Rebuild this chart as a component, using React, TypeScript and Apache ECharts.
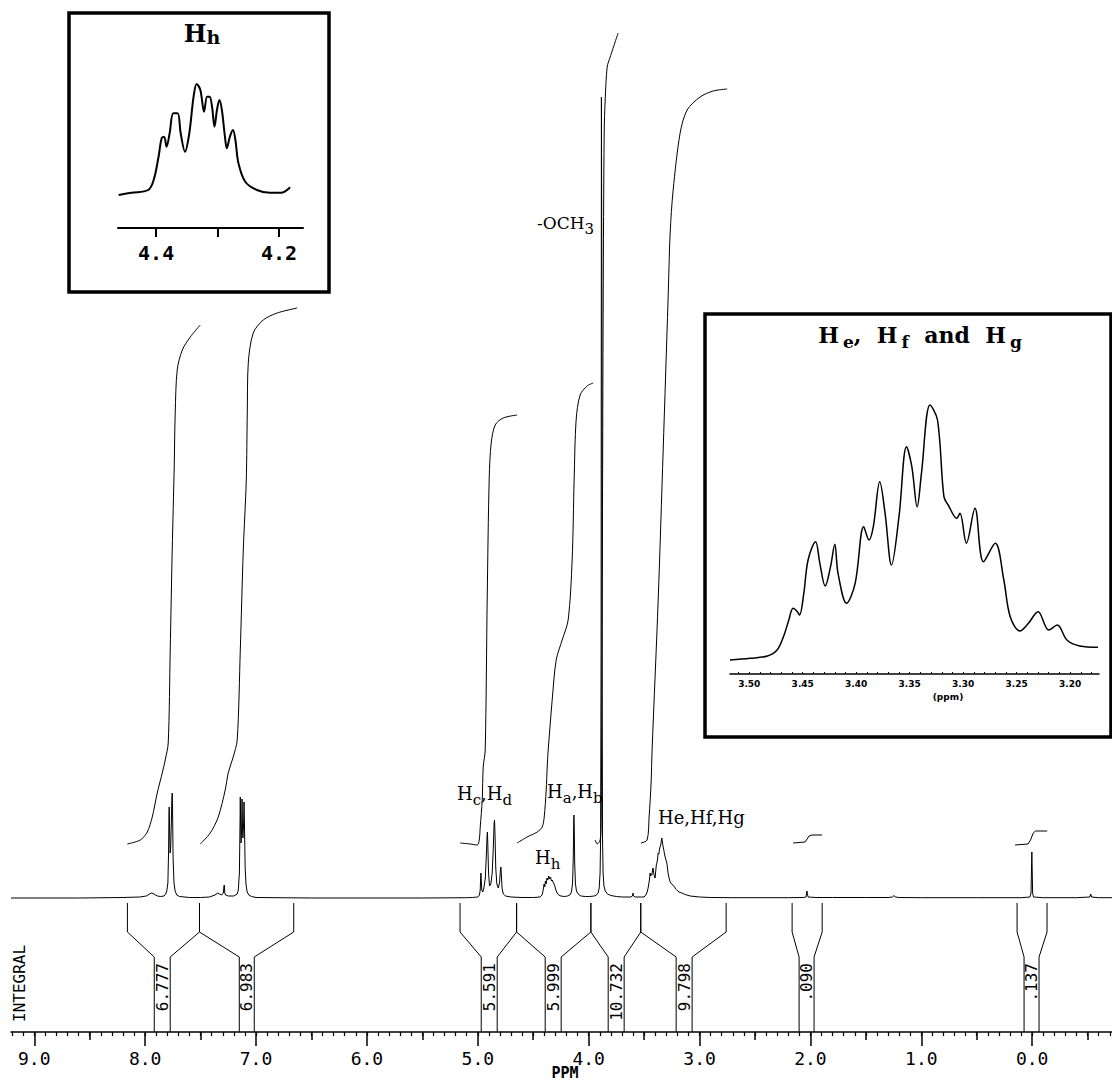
import React, { useEffect, useRef } from "react";
import * as echarts from "echarts";

// ---------- axis ticks (ppm) ----------
const majorTicks = [9, 8, 7, 6, 5, 4, 3, 2, 1, 0];
const midTicks = [8.5, 7.5, 6.5, 5.5, 4.5, 3.5, 2.5, 1.5, 0.5, -0.5];
const minorTicks: number[] = [];
for (let i = -7; i <= 92; i++) minorTicks.push(i / 10);

const hhTicks = [4.4, 4.3, 4.2];
const hhLabels = [4.4, 4.2];
const efgLabels = [3.5, 3.45, 3.4, 3.35, 3.3, 3.25, 3.2];
const efgMinor: number[] = [];
for (let i = 318; i <= 351; i++) efgMinor.push(i / 100);

// ---------- main spectrum [ppm, intensity] ----------
const spectrum = [
  [9.21, 0], [8.6, 0], [8.2, 0.5], [8.05, 1], [7.99, 2], [7.96, 4], [7.94, 5], [7.92, 4], [7.89, 2], [7.86, 1.5],
  [7.83, 2], [7.815, 4], [7.805, 7], [7.795, 15], [7.789, 45], [7.785, 85], [7.783, 91], [7.78, 70], [7.775, 45],
  [7.77, 50], [7.764, 75], [7.759, 100], [7.756, 105], [7.753, 90], [7.748, 40], [7.74, 15], [7.73, 7], [7.715, 3],
  [7.69, 1.5], [7.6, 0.5], [7.5, 0.5], [7.42, 1], [7.37, 3], [7.345, 5], [7.33, 4], [7.31, 3], [7.295, 5],
  [7.289, 12], [7.286, 13], [7.282, 5], [7.275, 3], [7.25, 2], [7.2, 2], [7.17, 4], [7.16, 8], [7.15, 25],
  [7.145, 70], [7.142, 101], [7.139, 75], [7.135, 55], [7.13, 70], [7.126, 99], [7.122, 70], [7.118, 60],
  [7.112, 75], [7.108, 96], [7.104, 70], [7.098, 30], [7.09, 13], [7.08, 6], [7.065, 3], [7.04, 1.5], [7.0, 0.5],
  [6.5, 0], [6.0, 0], [5.5, 0], [5.1, 0.3],
  [5.05, 0.5], [5.0, 1], [4.985, 3], [4.978, 8], [4.974, 20], [4.972, 25], [4.969, 18], [4.964, 8], [4.955, 6],
  [4.945, 10], [4.932, 20], [4.922, 45], [4.916, 63], [4.913, 66], [4.91, 55], [4.903, 25], [4.894, 12],
  [4.882, 14], [4.87, 25], [4.86, 50], [4.853, 75], [4.849, 78], [4.845, 65], [4.838, 30], [4.828, 14],
  [4.815, 10], [4.803, 16], [4.796, 28], [4.792, 31], [4.788, 25], [4.781, 10], [4.77, 4], [4.75, 2], [4.7, 1],
  [4.6, 0.5], [4.5, 0.5], [4.44, 1], [4.42, 3], [4.41, 8], [4.402, 14], [4.396, 11], [4.39, 17], [4.384, 14],
  [4.376, 20], [4.368, 18], [4.36, 22], [4.352, 19], [4.344, 21], [4.336, 17], [4.328, 18], [4.318, 15],
  [4.308, 13], [4.298, 9], [4.285, 5], [4.27, 3], [4.25, 2], [4.22, 1.5], [4.19, 2], [4.17, 3], [4.155, 6],
  [4.145, 15], [4.139, 40], [4.135, 75], [4.133, 83], [4.13, 70], [4.126, 35], [4.119, 14], [4.11, 7],
  [4.095, 4], [4.07, 2], [4.03, 1.5], [3.99, 1.5], [3.95, 2], [3.93, 3], [3.915, 5], [3.905, 10], [3.897, 25],
  [3.892, 60], [3.888, 250], [3.886, 600], [3.885, 801], [3.882, 801], [3.881, 600], [3.879, 250], [3.875, 60],
  [3.87, 25], [3.862, 12], [3.85, 7], [3.83, 4], [3.8, 2.5], [3.75, 1.5], [3.7, 1], [3.62, 1], [3.605, 2],
  [3.6, 5], [3.596, 2], [3.58, 1], [3.53, 1], [3.5, 1], [3.485, 3], [3.472, 6], [3.464, 10], [3.458, 14],
  [3.452, 18], [3.446, 25], [3.44, 22], [3.435, 24], [3.43, 23], [3.424, 28], [3.419, 30], [3.412, 24],
  [3.405, 21], [3.401, 20], [3.395, 27], [3.39, 33], [3.385, 35], [3.38, 38], [3.373, 45], [3.367, 44],
  [3.361, 49], [3.356, 51], [3.35, 53], [3.345, 57], [3.34, 60], [3.335, 56], [3.328, 51], [3.322, 48],
  [3.316, 44], [3.31, 41], [3.303, 38], [3.295, 35], [3.289, 30], [3.284, 25], [3.275, 20], [3.265, 16],
  [3.259, 15], [3.25, 14], [3.243, 13], [3.238, 13], [3.225, 11], [3.215, 9], [3.205, 8], [3.185, 6],
  [3.16, 5], [3.13, 3.5], [3.085, 2], [3.0, 1], [2.9, 0.5], [2.7, 0.3], [2.2, 0.3], [2.06, 0.5], [2.04, 1],
  [2.034, 5], [2.031, 7], [2.028, 4], [2.02, 1], [1.95, 0.5], [1.8, 0.5], [1.5, 0.5], [1.3, 0.5], [1.26, 1],
  [1.245, 2.5], [1.235, 1], [1.2, 0.5], [1.0, 0.3], [0.5, 0.3], [0.1, 0.3], [0.02, 1], [0.01, 5], [0.006, 30],
  [0.003, 46], [0.0, 30], [-0.004, 5], [-0.012, 1], [-0.1, 0.3], [-0.4, 0.3], [-0.52, 1], [-0.528, 4],
  [-0.536, 1], [-0.6, 0.3], [-0.72, 0.3],
];

// ---------- integral traces [ppm, height] ----------
const integralArom1 = [
  [8.161, 54], [8.044, 58], [7.981, 66], [7.936, 81], [7.891, 105], [7.846, 125], [7.819, 138], [7.792, 155],
  [7.774, 248], [7.756, 348], [7.738, 431], [7.729, 485], [7.711, 528], [7.665, 548], [7.593, 561], [7.503, 573],
];
const integralArom2 = [
  [7.503, 54], [7.413, 65], [7.341, 81], [7.278, 108], [7.251, 125], [7.206, 141], [7.17, 158], [7.142, 248],
  [7.115, 348], [7.088, 418], [7.079, 485], [7.07, 535], [7.025, 565], [6.935, 578], [6.809, 585], [6.629, 590],
];
const integralHcHd = [
  [5.159, 55], [5.069, 54], [5.005, 53], [4.987, 58], [4.978, 71], [4.96, 98], [4.951, 131], [4.933, 148],
  [4.915, 300], [4.897, 420], [4.879, 455], [4.843, 473], [4.771, 480], [4.645, 483],
];
const integralHaHb = [
  [4.645, 55], [4.555, 61], [4.464, 66], [4.419, 71], [4.401, 81], [4.383, 108], [4.374, 131], [4.365, 148],
  [4.329, 198], [4.293, 238], [4.239, 258], [4.185, 278], [4.149, 338], [4.131, 418], [4.113, 478],
  [4.077, 503], [4.014, 512], [3.959, 515],
];
const integralOCH3 = [
  [3.941, 58], [3.923, 54], [3.896, 58], [3.887, 81], [3.878, 298], [3.869, 598], [3.86, 765], [3.851, 798],
  [3.833, 831], [3.806, 841], [3.734, 865],
];
const integralHefg = [
  [3.527, 55], [3.473, 58], [3.455, 81], [3.437, 115], [3.428, 148], [3.373, 298], [3.328, 448], [3.284, 598],
  [3.265, 665], [3.238, 708], [3.175, 765], [3.112, 788], [2.995, 801], [2.877, 807], [2.751, 809],
];
const integral2ppm = [[2.156, 55], [2.048, 56], [2.03, 59], [2.012, 62], [1.985, 63], [1.895, 63]];
const integralTMS = [[0.154, 53], [0.037, 54], [0.015, 58], [-0.01, 65], [-0.03, 67], [-0.135, 67]];

// ---------- integral brackets ----------
const bracketOuter = [
  [8.16, 7.51], [7.51, 6.66], [5.16, 4.65], [4.65, 3.98], [3.98, 3.53], [3.53, 2.76], [2.165, 1.894], [0.136, -0.134],
];
const bracketInner = [
  [7.918, 7.774], [7.151, 7.016], [4.969, 4.825], [4.392, 4.248], [3.824, 3.68], [3.211, 3.067], [2.102, 1.967], [0.073, -0.062],
];
const integralValues = ["6.777", "6.983", "5.591", "5.999", "10.732", "9.798", ".090", ".137"];

// ---------- insets ----------
const hhInset = [
  [4.461, 33], [4.44, 35.3], [4.413, 38], [4.404, 48], [4.396, 71.3], [4.391, 89.7], [4.387, 91.3], [4.383, 81.3],
  [4.378, 94.7], [4.372, 114.7], [4.365, 114.7], [4.36, 94.7], [4.353, 76.3], [4.346, 94.7], [4.339, 131.3],
  [4.334, 144], [4.328, 138], [4.322, 116.3], [4.317, 131.3], [4.313, 131.3], [4.309, 121.3], [4.305, 101.3],
  [4.301, 118], [4.297, 128], [4.293, 118], [4.288, 91.3], [4.285, 79.7], [4.28, 91.3], [4.275, 98], [4.271, 88],
  [4.266, 64.7], [4.255, 46.3], [4.236, 38], [4.215, 35.3], [4.196, 35.3], [4.182, 40.7],
];
const hefgInset = [
  [3.518, 14], [3.499, 15.7], [3.483, 18], [3.474, 24], [3.468, 37.3], [3.463, 54], [3.459, 65.7], [3.455, 62.3],
  [3.453, 59], [3.449, 80.7], [3.445, 114], [3.438, 132.3], [3.434, 110.7], [3.429, 88], [3.424, 107.3],
  [3.42, 129.7], [3.417, 100.7], [3.409, 70.7], [3.401, 90.7], [3.393, 147.3], [3.388, 134], [3.384, 147.3],
  [3.378, 192.3], [3.373, 160.7], [3.367, 109], [3.36, 157.3], [3.353, 227.3], [3.348, 207.3], [3.343, 167.3],
  [3.339, 200.7], [3.331, 269], [3.324, 254], [3.318, 177.3], [3.314, 169], [3.306, 155.7], [3.303, 160.7],
  [3.297, 130.7], [3.289, 165.7], [3.281, 112.3], [3.27, 130.7], [3.262, 94], [3.256, 57.3], [3.247, 43],
  [3.239, 50.7], [3.23, 62.3], [3.22, 44], [3.212, 49], [3.203, 34], [3.191, 28], [3.174, 26.7],
];

const MONO = "DejaVu Sans Mono";
const SERIF = "DejaVu Serif";

function lineSeries(data: number[][], xi: number, yi: number, width = 1, smooth: any = false) {
  return {
    type: "line",
    xAxisIndex: xi,
    yAxisIndex: yi,
    data,
    symbol: "none",
    smooth,
    lineStyle: { color: "#000", width },
    silent: true,
  };
}

function subLabel(x: number, y: number, text: string, size: number, subSize: number, drop: number) {
  return {
    type: "text",
    x,
    y,
    style: {
      text,
      align: "left",
      verticalAlign: "bottom",
      fill: "#000",
      rich: {
        n: { fontFamily: SERIF, fontSize: size, verticalAlign: "bottom", padding: [0, 0, drop, 0], fill: "#000" },
        s: { fontFamily: SERIF, fontSize: subSize, verticalAlign: "bottom", fill: "#000" },
      },
    },
  };
}

export default function App() {
  const ref = useRef<HTMLDivElement>(null);
  useEffect(() => {
    const chart = echarts.init(ref.current!, null, { renderer: "svg" });
    const hidden = { show: false };
    const mainX = (extra: any) => ({
      type: "value",
      gridIndex: 0,
      position: "bottom",
      min: -0.72,
      max: 9.21,
      inverse: true,
      splitLine: hidden,
      ...extra,
    });
    const option: any = {
      animation: false,
      backgroundColor: "#fff",
      grid: [
        { left: 11, right: 0, top: 0, bottom: 53, containLabel: false, outerBoundsMode: "none" },
        { left: 118, right: 809, top: 60, bottom: 857, containLabel: false, outerBoundsMode: "none" },
        { left: 730, right: 13, top: 400, bottom: 411, containLabel: false, outerBoundsMode: "none" },
      ],
      xAxis: [
        mainX({
          axisLine: { show: true, onZero: false, lineStyle: { color: "#000", width: 1.5 } },
          axisTick: { show: true, customValues: majorTicks, length: 14, lineStyle: { color: "#000", width: 1.5 } },
          axisLabel: {
            show: true,
            customValues: majorTicks,
            formatter: (v: number) => v.toFixed(1),
            color: "#000",
            fontFamily: MONO,
            fontSize: 18,
            margin: 17,
          },
        }),
        mainX({
          axisLine: { show: false, onZero: false },
          axisTick: { show: true, customValues: midTicks, length: 8, lineStyle: { color: "#000", width: 1.5 } },
          axisLabel: hidden,
        }),
        mainX({
          axisLine: { show: false, onZero: false },
          axisTick: { show: true, customValues: minorTicks, length: 4, lineStyle: { color: "#000", width: 1.2 } },
          axisLabel: hidden,
        }),
        {
          type: "value",
          gridIndex: 1,
          position: "bottom",
          min: 4.161,
          max: 4.462,
          inverse: true,
          splitLine: hidden,
          axisLine: { show: true, onZero: false, lineStyle: { color: "#000", width: 2 } },
          axisTick: { show: true, customValues: hhTicks, length: 9, lineStyle: { color: "#000", width: 2 } },
          axisLabel: {
            show: true,
            customValues: hhLabels,
            formatter: (v: number) => v.toFixed(1),
            color: "#000",
            fontFamily: MONO,
            fontWeight: "bold",
            fontSize: 20,
            margin: 15,
          },
        },
        {
          type: "value",
          gridIndex: 2,
          position: "bottom",
          min: 3.173,
          max: 3.518,
          inverse: true,
          splitLine: hidden,
          axisLine: { show: true, onZero: false, lineStyle: { color: "#000", width: 1.5 } },
          axisTick: { show: true, inside: true, customValues: efgMinor, length: 2, lineStyle: { color: "#000", width: 1 } },
          axisLabel: {
            show: true,
            customValues: efgLabels,
            formatter: (v: number) => v.toFixed(2),
            color: "#000",
            fontFamily: "DejaVu Sans",
            fontWeight: "bold",
            fontSize: 9,
            margin: 5,
          },
        },
      ],
      yAxis: [
        { type: "value", gridIndex: 0, min: -134, max: 898, show: false },
        { type: "value", gridIndex: 1, min: 0, max: 168, show: false },
        { type: "value", gridIndex: 2, min: 0, max: 274, show: false },
      ],
      series: [
        lineSeries(spectrum, 0, 0, 1),
        lineSeries(integralArom1, 0, 0, 1, 0.3),
        lineSeries(integralArom2, 0, 0, 1, 0.3),
        lineSeries(integralHcHd, 0, 0, 1, 0.3),
        lineSeries(integralHaHb, 0, 0, 1, 0.3),
        lineSeries(integralOCH3, 0, 0, 1, 0.3),
        lineSeries(integralHefg, 0, 0, 1, 0.3),
        lineSeries(integral2ppm, 0, 0, 1),
        lineSeries(integralTMS, 0, 0, 1),
        lineSeries(hhInset, 3, 1, 2, 0.35),
        lineSeries(hefgInset, 4, 2, 1.5, 0.35),
        {
          type: "custom",
          coordinateSystem: "cartesian2d",
          xAxisIndex: 0,
          yAxisIndex: 0,
          silent: true,
          clip: false,
          encode: { x: 0, y: 1 },
          data: bracketOuter.map((o, i) => [o[0], o[1], bracketInner[i][0], bracketInner[i][1]]),
          renderItem: (params: any, api: any) => {
            const i = params.dataIndex;
            const oL = api.value(0), oR = api.value(1), iL = api.value(2), iR = api.value(3);
            const c = (x: number, y: number) => api.coord([x, y]);
            const st = { stroke: "#000", lineWidth: 1, fill: "none" };
            const tx = (c(iL, 0)[0] + c(iR, 0)[0]) / 2;
            const ty = c(iL, -65)[1];
            return {
              type: "group",
              children: [
                { type: "polyline", shape: { points: [c(oL, -5), c(oL, -34), c(iL, -59), c(iL, -134)] }, style: st },
                { type: "polyline", shape: { points: [c(oR, -5), c(oR, -34), c(iR, -59), c(iR, -134)] }, style: st },
                {
                  type: "text",
                  x: tx,
                  y: ty,
                  rotation: Math.PI / 2,
                  style: { text: integralValues[i], fill: "#000", fontSize: 16, fontFamily: MONO, align: "right", verticalAlign: "middle" },
                },
              ],
            };
          },
        },
      ],
      graphic: [
        { type: "rect", shape: { x: 69, y: 13, width: 260, height: 279 }, style: { stroke: "#000", lineWidth: 3.5, fill: "none" } },
        { type: "rect", shape: { x: 705, y: 314, width: 406, height: 423 }, style: { stroke: "#000", lineWidth: 3.5, fill: "none" } },
        {
          type: "text",
          x: 202,
          y: 46,
          style: {
            text: "{n|H}{s|h}",
            align: "center",
            verticalAlign: "bottom",
            rich: {
              n: { fontFamily: SERIF, fontWeight: "bold", fontSize: 24, verticalAlign: "bottom", padding: [0, 0, 1, 0], fill: "#000" },
              s: { fontFamily: SERIF, fontWeight: "bold", fontSize: 19, verticalAlign: "bottom", fill: "#000" },
            },
          },
        },
        {
          type: "text",
          x: 920,
          y: 350,
          style: {
            text: "{n|H}{s|e}{n|,  H}{s|f}{n|  and  H}{s|g}",
            align: "center",
            verticalAlign: "bottom",
            rich: {
              n: { fontFamily: SERIF, fontWeight: "bold", fontSize: 22, verticalAlign: "bottom", padding: [0, 0, 4, 0], fill: "#000" },
              s: { fontFamily: SERIF, fontWeight: "bold", fontSize: 17, verticalAlign: "bottom", padding: [0, 0, 0, 4], fill: "#000" },
            },
          },
        },
        { type: "text", x: 948, y: 697, style: { text: "(ppm)", align: "center", verticalAlign: "middle", fontFamily: "DejaVu Sans", fontWeight: "bold", fontSize: 9, fill: "#000" } },
        { type: "text", x: 565, y: 1073, style: { text: "PPM", align: "center", verticalAlign: "middle", fontFamily: MONO, fontWeight: "bold", fontSize: 15, fill: "#000" } },
        subLabel(457, 807, "{n|H}{s|c}{n|,H}{s|d}", 18, 15, 5),
        subLabel(547, 805, "{n|H}{s|a}{n|,H}{s|b}", 18, 15, 5),
        subLabel(535, 871, "{n|H}{s|h}", 18, 15, 5),
        subLabel(537, 236, "{n|-OCH}{s|3}", 17, 15, 5),
        { type: "text", x: 658, y: 826, style: { text: "He,Hf,Hg", align: "left", verticalAlign: "bottom", fontFamily: SERIF, fontSize: 18, fill: "#000" } },
        {
          type: "text",
          x: 19,
          y: 1022,
          rotation: Math.PI / 2,
          style: { text: "INTEGRAL", align: "left", verticalAlign: "middle", fontFamily: MONO, fontSize: 16, fill: "#000" },
        },
      ],
    };
    chart.setOption(option);
    return () => chart.dispose();
  }, []);
  return <div ref={ref} style={{ position: "fixed", left: 0, top: 0, width: 1112, height: 1085 }} />;
}
